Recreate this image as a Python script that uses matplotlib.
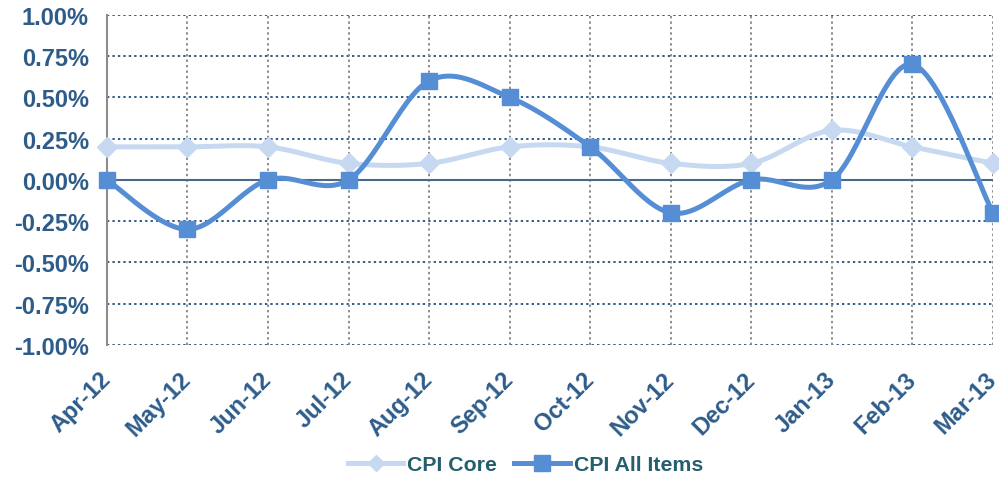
import matplotlib
matplotlib.use("Agg")
import matplotlib.pyplot as plt
import numpy as np

months = ["Apr-12", "May-12", "Jun-12", "Jul-12", "Aug-12", "Sep-12",
          "Oct-12", "Nov-12", "Dec-12", "Jan-13", "Feb-13", "Mar-13"]
cpi_core = [0.2, 0.2, 0.2, 0.1, 0.1, 0.2, 0.2, 0.1, 0.1, 0.3, 0.2, 0.1]
cpi_all = [0.0, -0.3, 0.0, 0.0, 0.6, 0.5, 0.2, -0.2, 0.0, 0.0, 0.7, -0.2]
yticks = [-1.0, -0.75, -0.5, -0.25, 0.0, 0.25, 0.5, 0.75, 1.0]

plt.rcParams['font.family'] = ['Liberation Sans', 'DejaVu Sans']


def smooth(xs, ys, n=30):
    # Excel-style smoothed line: cubic bezier through points
    p = np.column_stack([xs, ys]).astype(float)
    ext = np.vstack([p[0], p, p[-1]])
    out = []
    t = np.linspace(0, 1, n)[:, None]
    for i in range(len(p) - 1):
        p0, p1, p2, p3 = ext[i], ext[i + 1], ext[i + 2], ext[i + 3]
        c1 = p1 + (p2 - p0) / 6
        c2 = p2 - (p3 - p1) / 6
        seg = ((1 - t) ** 3) * p1 + 3 * ((1 - t) ** 2) * t * c1 \
            + 3 * (1 - t) * t ** 2 * c2 + t ** 3 * p2
        out.append(seg if i == 0 else seg[1:])
    seg = np.vstack(out)
    return seg[:, 0], seg[:, 1]


def plot_chart():
    fig = plt.figure(figsize=(9.99, 4.81), dpi=100)
    ax = fig.add_axes([0.107, 0.281, 0.887, 0.686])

    x = np.arange(len(months))
    tick_color = "#2E5C8A"

    # grid
    for yv in yticks:
        ax.axhline(yv, color="#2E5C8A", lw=1.4, ls=(0, (1.2, 1.6)), zorder=1)
    for xv in x[1:]:
        ax.axvline(xv, color="#8C8C8C", lw=1.4, ls=(0, (1.2, 1.6)), zorder=1)
    ax.axhline(0, color="#4A6A8C", lw=1.5, zorder=2)

    core_col = "#C6D9F1"
    all_col = "#558ED5"
    sx, sy = smooth(x, cpi_core)
    ax.plot(sx, sy, color=core_col, lw=3.6, zorder=3, clip_on=False)
    ax.plot(x, cpi_core, ls="none", marker="D", ms=10, color=core_col,
            zorder=3, clip_on=False)
    sx, sy = smooth(x, cpi_all)
    ax.plot(sx, sy, color=all_col, lw=3.6, zorder=4, clip_on=False)
    ax.plot(x, cpi_all, ls="none", marker="s", ms=12, color=all_col,
            zorder=4, clip_on=False)

    # legend handles
    ax.plot([], [], color=core_col, lw=3.6, marker="D", ms=8, label="CPI Core")
    ax.plot([], [], color=all_col, lw=3.6, marker="s", ms=11, label="CPI All Items")

    ax.set_xlim(0, 11)
    ax.set_ylim(-1.0, 1.0)
    ax.set_yticks(yticks)
    ax.set_yticklabels(["%.2f%%" % v for v in yticks], fontsize=17,
                       fontweight="bold", color=tick_color)
    ax.set_xticks(x)
    ax.set_xticklabels(months, rotation=45, ha="right", va="center",
                       rotation_mode="anchor",
                       fontsize=17, fontweight="bold", color=tick_color)
    ax.tick_params(axis="y", length=0, pad=13)
    ax.tick_params(axis="x", length=0, pad=22)
    for s in ["top", "right", "bottom"]:
        ax.spines[s].set_visible(False)
    ax.spines["left"].set_color("#8C8C8C")
    ax.spines["left"].set_linewidth(1.5)

    leg = fig.legend(handles=ax.get_lines()[-2:], loc="center",
                     bbox_to_anchor=(0.526, 0.032), ncol=2, frameon=False,
                     handlelength=2.6, handletextpad=0.2, columnspacing=0.8,
                     prop={"weight": "bold", "size": 15.3})
    for t in leg.get_texts():
        t.set_color("#255E6E")

    fig.savefig("out.png", dpi=100)


if __name__ == "__main__":
    plot_chart()
